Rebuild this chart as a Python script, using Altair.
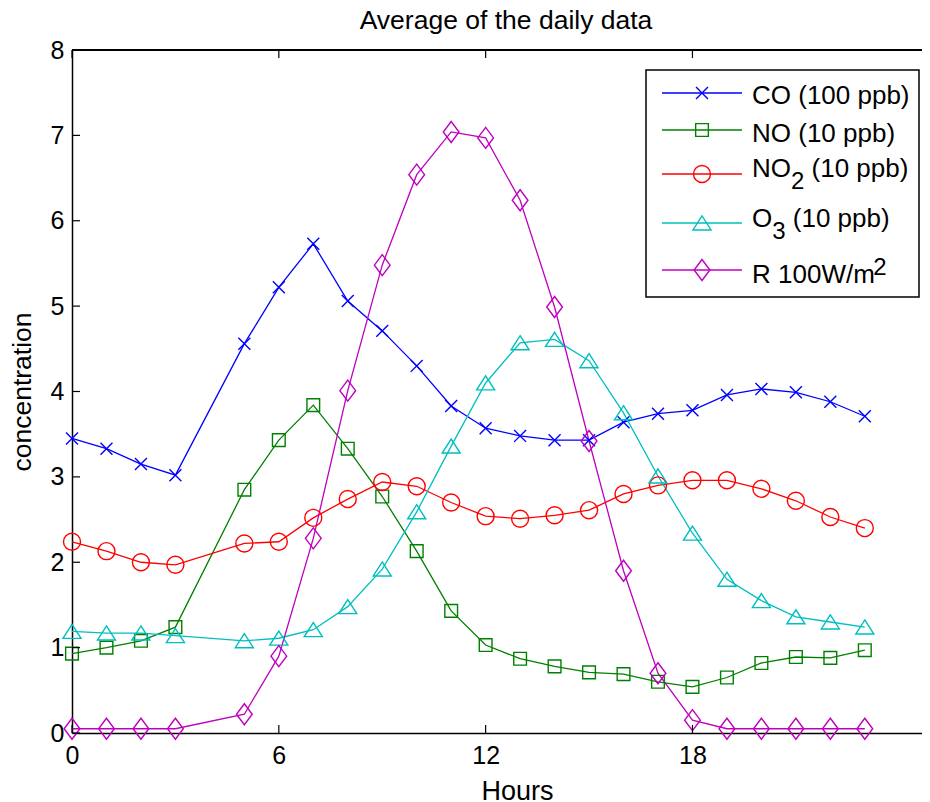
import altair as alt
import pandas as pd

# ---------------- data ----------------
hours = [0, 1, 2, 3, 5, 6, 7, 8, 9, 10, 11, 12, 13, 14, 15, 16, 17, 18, 19, 20, 21, 22, 23]
co = [3.45, 3.33, 3.15, 3.02, 4.56, 5.22, 5.73, 5.06, 4.71, 4.30, 3.83, 3.57, 3.48, 3.43, 3.43,
      3.64, 3.74, 3.78, 3.96, 4.03, 3.99, 3.88, 3.71]
no = [0.93, 1.00, 1.08, 1.24, 2.85, 3.43, 3.84, 3.33, 2.77, 2.13, 1.43, 1.03, 0.87, 0.78, 0.71,
      0.69, 0.60, 0.54, 0.65, 0.82, 0.89, 0.88, 0.97]
no2 = [2.24, 2.13, 2.00, 1.97, 2.22, 2.24, 2.52, 2.74, 2.94, 2.89, 2.70, 2.54, 2.51, 2.55, 2.61,
       2.80, 2.90, 2.96, 2.96, 2.86, 2.72, 2.53, 2.40]
o3 = [1.19, 1.17, 1.17, 1.14, 1.08, 1.11, 1.21, 1.48, 1.92, 2.59, 3.36, 4.10, 4.57, 4.61, 4.36,
      3.75, 3.01, 2.34, 1.80, 1.55, 1.36, 1.30, 1.24]
rad = [0.05, 0.05, 0.05, 0.05, 0.22, 0.90, 2.28, 4.01, 5.48, 6.54, 7.04, 6.97, 6.24, 4.99, 3.42,
       1.90, 0.70, 0.15, 0.05, 0.05, 0.05, 0.05, 0.05]

series_names = ["CO (100 ppb)", "NO (10 ppb)", "NO2 (10 ppb)", "O3 (10 ppb)", "R 100W/m2"]
series_values = [co, no, no2, o3, rad]
series_colors = ["#0000FF", "#008000", "#FF0000", "#00BFBF", "#BF00BF"]
x_ticks = [0, 6, 12, 18]
y_ticks = [0, 1, 2, 3, 4, 5, 6, 7, 8]

# legend label pieces: (text, kind) kind: main / sub / sup
legend_pieces = [
    [("CO (100 ppb)", "main")],
    [("NO (10 ppb)", "main")],
    [("NO", "main"), ("2", "sub"), ("(10 ppb)", "main")],
    [("O", "main"), ("3", "sub"), ("(10 ppb)", "main")],
    [("R 100W/m", "main"), ("2", "sup")],
]

# ---------------- styling / layout ----------------
FONT = "Liberation Sans"
W, H = 850, 683
PX_PER_HOUR = 34.47
XMAX = W / PX_PER_HOUR
YMAX = 8.0

SHAPES = [
    "M-0.57,-0.57L0.57,0.57M-0.57,0.57L0.57,-0.57",                     # x
    "M-0.605,-0.605L0.605,-0.605L0.605,0.605L-0.605,0.605Z",             # square
    "M0.81,0A0.81,0.81 0 1,1 -0.81,0A0.81,0.81 0 1,1 0.81,0Z",           # circle
    "M0,-0.68L0.86,0.66L-0.86,0.66Z",                                    # triangle
    "M0,-1L0.75,0L0,1L-0.75,0Z",                                         # diamond
]
SYM_SIZE = 441


def px2x(px):
    return px / W * XMAX


def py2y(py):
    return YMAX - py / H * YMAX


rows = []
for name, vals in zip(series_names, series_values):
    for h, v in zip(hours, vals):
        rows.append({"hour": h, "value": v, "series": name})
df = pd.DataFrame(rows)

color_scale = alt.Scale(domain=series_names, range=series_colors)
shape_scale = alt.Scale(domain=series_names, range=SHAPES)
x_scale = alt.Scale(domain=[0, XMAX], nice=False, zero=False)
y_scale = alt.Scale(domain=[0, YMAX], nice=False, zero=False)

x_enc = alt.X("hour:Q", scale=x_scale,
              axis=alt.Axis(values=x_ticks, ticks=False, grid=False, domainColor="black",
                            domainWidth=1.5, labelFontSize=25, labelFont=FONT, labelColor="black",
                            labelPadding=10, labelFlush=False, title="Hours", titleFontSize=27,
                            titleFont=FONT, titleFontWeight="normal", titleColor="black",
                            titleX=445, titlePadding=10))
y_enc = alt.Y("value:Q", scale=y_scale,
              axis=alt.Axis(values=y_ticks, ticks=False, grid=False, domainColor="black",
                            domainWidth=1.5, labelFontSize=25, labelFont=FONT, labelColor="black",
                            labelPadding=8, labelFlush=False, format="d", title="concentration",
                            titleFontSize=26.5, titleFont=FONT, titleFontWeight="normal",
                            titleColor="black", titlePadding=14))

lines = alt.Chart(df).mark_line(strokeWidth=1.3).encode(
    x=x_enc, y=y_enc,
    color=alt.Color("series:N", scale=color_scale, legend=None),
    detail="series:N",
    order="hour:Q",
)
points = alt.Chart(df).mark_point(filled=False, strokeWidth=1.4, size=SYM_SIZE, opacity=1).encode(
    x="hour:Q", y="value:Q",
    color=alt.Color("series:N", scale=color_scale, legend=None),
    shape=alt.Shape("series:N", scale=shape_scale, legend=None),
)

# inside ticks + top frame line
tick_len = 8
ytk = pd.DataFrame({"v": y_ticks})
ytick_rules = alt.Chart(ytk).mark_rule(color="black", strokeWidth=1.2).encode(
    y=alt.Y("v:Q", scale=y_scale), x=alt.datum(0), x2=alt.datum(px2x(tick_len)))
xtk = pd.DataFrame({"h": x_ticks})
xtick_bot = alt.Chart(xtk).mark_rule(color="black", strokeWidth=1.2).encode(
    x=alt.X("h:Q", scale=x_scale), y=alt.datum(0), y2=alt.datum(py2y(H - tick_len)))
xtick_top = alt.Chart(xtk).mark_rule(color="black", strokeWidth=1.2).encode(
    x=alt.X("h:Q", scale=x_scale), y=alt.datum(YMAX), y2=alt.datum(py2y(tick_len)))
top_frame = alt.Chart(xtk).mark_rule(color="black", strokeWidth=1.5).encode(
    x=alt.value(0), x2=alt.value(W), y=alt.value(0))

# ---------------- legend (MATLAB-style box) ----------------
row_line_py = [43, 80, 124, 173, 220]
row_base_py = [54, 92, 127, 177, 233]
leg = pd.DataFrame({
    "series": series_names,
    "lx": [px2x(590)] * 5,
    "lx2": [px2x(670)] * 5,
    "mx": [px2x(630)] * 5,
    "ly": [py2y(p) for p in row_line_py],
})

# place label pieces using Arial/Liberation advance widths
ADV = {"C": 722, "O": 778, "N": 722, "R": 667, "W": 944, " ": 278, "(": 333, ")": 333,
       "0": 556, "1": 556, "2": 556, "3": 556, "p": 556, "b": 556, "m": 833, "/": 278}
MAIN_FS, SUB_FS = 26, 24


def adv(text, fs):
    return sum(ADV.get(c, 556) for c in text) * fs / 1000.0


txt_rows = []
for pieces, base in zip(legend_pieces, row_base_py):
    cx = 680.0
    for text, kind in pieces:
        if kind == "main":
            fs, dy = MAIN_FS, 0
        elif kind == "sub":
            fs, dy = SUB_FS, 12
        else:
            fs, dy = SUB_FS, -8
        txt_rows.append({"t": text, "tx": px2x(cx), "ty": py2y(base + dy), "fs": fs})
        cx += adv(text, fs)
        if kind == "sub":
            cx += adv(" ", MAIN_FS)
txt_df = pd.DataFrame(txt_rows)

box = pd.DataFrame({"x1": [px2x(574)], "x2": [px2x(847)], "y1": [py2y(20)], "y2": [py2y(247)]})
leg_box = alt.Chart(box).mark_rect(fill="white", stroke="black", strokeWidth=1.5).encode(
    x=alt.X("x1:Q", scale=x_scale), x2="x2:Q", y=alt.Y("y1:Q", scale=y_scale), y2="y2:Q")
leg_lines = alt.Chart(leg).mark_rule(strokeWidth=1.3).encode(
    x=alt.X("lx:Q", scale=x_scale), x2="lx2:Q", y=alt.Y("ly:Q", scale=y_scale),
    color=alt.Color("series:N", scale=color_scale, legend=None))
leg_marks = alt.Chart(leg).mark_point(filled=False, strokeWidth=1.4, size=SYM_SIZE, opacity=1).encode(
    x=alt.X("mx:Q", scale=x_scale), y=alt.Y("ly:Q", scale=y_scale),
    color=alt.Color("series:N", scale=color_scale, legend=None),
    shape=alt.Shape("series:N", scale=shape_scale, legend=None))
leg_text = alt.Chart(txt_df).mark_text(align="left", baseline="alphabetic", font=FONT,
                                       color="black").encode(
    x=alt.X("tx:Q", scale=x_scale), y=alt.Y("ty:Q", scale=y_scale), text="t:N",
    size=alt.Size("fs:Q", scale=None, legend=None))

chart = alt.layer(
    lines, points, ytick_rules, xtick_bot, xtick_top, top_frame,
    leg_box, leg_lines, leg_marks, leg_text,
).properties(
    width=W, height=H,
    title=alt.TitleParams("Average of the daily data", fontSize=26.5, font=FONT,
                          fontWeight="normal", color="black", anchor="middle", dx=9, offset=4),
    autosize=alt.AutoSizeParams(type="none"),
    padding={"left": 64, "top": 42, "right": 0, "bottom": 69},
).configure_view(stroke=None).configure(background="white")

chart.save("out.html", embed_options={"renderer": "svg", "actions": False})
